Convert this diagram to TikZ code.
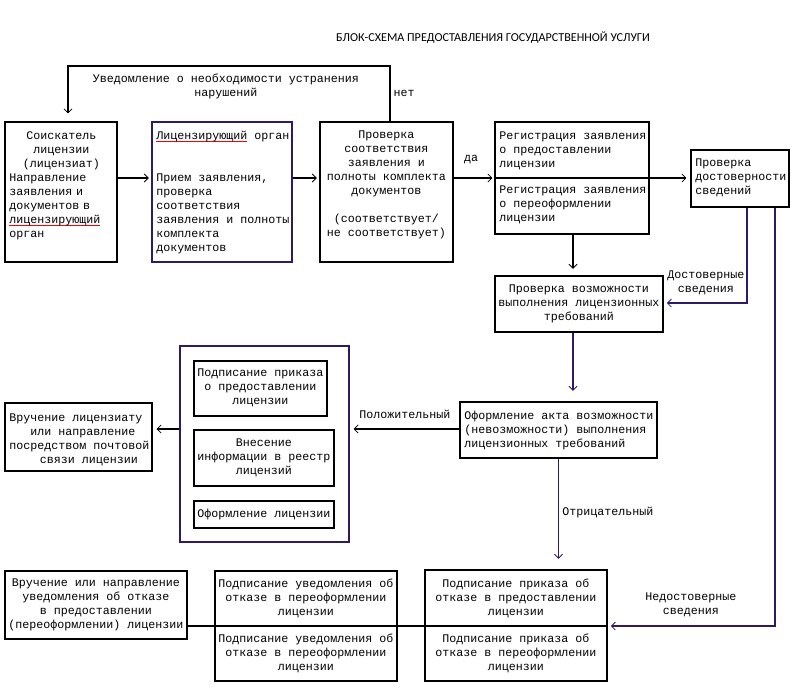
\documentclass[tikz,border=0pt]{standalone}
\usepackage{fontspec}
\setmainfont{Liberation Mono}
\newfontfamily\titlefont{Carlito}
\usetikzlibrary{arrows.meta,fit}
\definecolor{navy}{RGB}{45,25,100}
\newsavebox\spellbox
\newcommand\spell[1]{\leavevmode\sbox\spellbox{#1}\rlap{\textcolor{red}{\rule[-1.9pt]{\wd\spellbox}{0.75pt}}}\usebox\spellbox}
\newcommand\monof{\fontsize{8.75pt}{10.5pt}\selectfont\frenchspacing}
\begin{document}
\begin{tikzpicture}[x=0.75pt,y=-0.75pt,
  box/.style={draw, line width=0.8pt, inner sep=0pt},
  nbox/.style={box, draw=navy},
  txt/.style={inner sep=0pt, font=\monof, anchor=north},
  lab/.style={inner sep=0pt, font=\monof},
  conn/.style={line width=0.8pt},
  arr/.style={conn, -{Straight Barb[length=3pt,width=6pt,line width=0.6pt]}}]
\useasboundingbox[fill=white] (0,0) rectangle (801,693);

% title
\node[inner sep=0pt, font=\titlefont\fontsize{9.1pt}{11pt}\selectfont] (title) at (493,38) {БЛОК-СХЕМА ПРЕДОСТАВЛЕНИЯ ГОСУДАРСТВЕННОЙ УСЛУГИ};

% helper coordinates
\coordinate (y66) at (0,66);
\coordinate (y178) at (0,178);
\coordinate (y303) at (0,303);
\coordinate (y429) at (0,429);
\coordinate (y626) at (0,626);
\coordinate (x68) at (68,0);
\coordinate (x390) at (390,0);
\coordinate (x573) at (573,0);
\coordinate (x747) at (747,0);
\coordinate (x775) at (775,0);

% boxes
\node[box, fit={(5,122)(117,262)}] (b1) {};
\node[nbox, fit={(152,122)(292,262)}] (b2) {};
\node[box, fit={(320,122)(453,262)}] (b3) {};
\node[box, fit={(495,122)(649,234)}] (b4) {};
\node[box, fit={(691,150)(789,207)}] (b5) {};
\node[box, fit={(495,276)(663,332)}] (b6) {};
\node[nbox, fit={(180,346)(349,542)}] (grp) {};
\node[box, fit={(194,361)(327,416)}] (g1) {};
\node[box, fit={(194,430)(334,486)}] (g2) {};
\node[box, fit={(194,501)(334,528)}] (g3) {};
\node[box, fit={(5,403)(152,471)}] (b8) {};
\node[box, fit={(460,402)(657,458)}] (b9) {};
\node[box, fit={(425,570)(607,681)}] (b10) {};
\node[box, fit={(215,571)(397,681)}] (b11) {};
\node[box, fit={(5,571)(187,639)}] (b12) {};

% texts
\node[txt, anchor=north west, text width=78pt] (t1) at (9,131)
 {{\centering Соискатель\\лицензии\\(лицензиат)\par}\raggedright Направление\\заявления и\\документов в\\\spell{лицензирующий}\\орган\par};
\node[txt, anchor=north west, align=left] (t2) at (156,131)
 {\spell{Лицензирующий} орган\\[21pt]Прием заявления,\\проверка\\соответствия\\заявления и полноты\\комплекта\\документов};
\node[txt, align=center] (t3) at (386.5,131)
 {Проверка\\соответствия\\заявления и\\полноты комплекта\\документов\\[10.5pt](соответствует/\\не соответствует)};
\node[txt, anchor=north west, align=left] (t4a) at (499,132)
 {Регистрация заявления\\о предоставлении\\лицензии};
\node[txt, anchor=north west, align=left] (t4b) at (499,186)
 {Регистрация заявления\\о переоформлении\\лицензии};
\node[txt, anchor=north west, align=left] (t5) at (695,159)
 {Проверка\\достоверности\\сведений};
\node[txt, align=center] (t6) at (579,285)
 {Проверка возможности\\выполнения лицензионных\\требований};
\node[txt, align=center] (tg1) at (260.5,369) {Подписание приказа\\о предоставлении\\лицензии};
\node[txt, align=center] (tg2) at (264,439) {Внесение\\информации в реестр\\лицензий};
\node[txt, align=center] (tg3) at (264,509) {Оформление лицензии};
\node[txt, anchor=north west, align=left] (t8) at (9,414)
 {Вручение лицензиату\\\hspace*{15.75pt}или направление\\посредством почтовой\\\hspace*{23pt}связи лицензии};
\node[txt, anchor=north west, align=left] (t9) at (464,411)
 {Оформление акта возможности\\(невозможности) выполнения\\лицензионных требований};
\node[txt, align=center] (t10a) at (516,579) {Подписание приказа об\\отказе в предоставлении\\лицензии};
\node[txt, align=center] (t10b) at (516,634) {Подписание приказа об\\отказе в переоформлении\\лицензии};
\node[txt, align=center] (t11a) at (306,579) {Подписание уведомления об\\отказе в переоформлении\\лицензии};
\node[txt, align=center] (t11b) at (306,634) {Подписание уведомления об\\отказе в переоформлении\\лицензии};
\node[txt, align=center] (t12) at (96,579) {Вручение или направление\\уведомления об отказе\\в предоставлении\\(переоформлении) лицензии};

% labels
\node[lab, anchor=north, align=center] (lnotice) at (226,74) {Уведомление о необходимости устранения\\нарушений};
\node[lab] (lnet) at (404,93) {нет};
\node[lab] (lda) at (471,160) {да};
\node[lab, anchor=north, align=center] (ldost) at (706,271) {Достоверные\\сведения};
\node[lab] (lpos) at (405,414) {Положительный};
\node[lab] (lneg) at (608,513) {Отрицательный};
\node[lab, anchor=north, align=center] (lnedost) at (691,593) {Недостоверные\\сведения};

% connectors
\draw[arr, shorten >=2pt] (b1.east |- y178) -- (b2.west |- y178);
\draw[arr, shorten >=2pt] (b2.east |- y178) -- (b3.west |- y178);
\draw[arr, shorten >=1.5pt] (b3.east |- y178) -- (b4.west |- y178);
\draw[conn] (b4.west |- y178) -- (b4.east |- y178);
\draw[arr, shorten >=3pt] (b4.east |- y178) -- (b5.west |- y178);
\draw[arr, shorten >=6pt] (b3.north -| x390) -- (x390 |- y66) -- (x68 |- y66) -- (b1.north -| x68);
\draw[arr, shorten >=5pt] (b4.south -| x573) -- (b6.north -| x573);
\draw[arr, draw=navy, shorten >=2.5pt] (b5.south -| x747) -- (x747 |- y303) -- (b6.east |- y303);
\draw[arr, draw=navy, shorten >=2.5pt] (b5.south -| x775) -- (x775 |- y626) -- (b10.east |- y626);
\draw[arr, draw=navy, shorten >=8pt] (b6.south -| x573) -- (b9.north -| x573);
\draw[arr, shorten >=3pt] (b9.west |- y429) -- (grp.east |- y429);
\draw[arr, shorten >=3pt] (grp.west |- y429) -- (b8.east |- y429);
\draw[arr, draw=navy, shorten >=8pt] (b9.south) -- (b10.north -| b9.south);
\draw[conn] (b12.east |- y626) -- (b10.west |- y626) -- (b10.east |- y626);
\end{tikzpicture}
\end{document}
